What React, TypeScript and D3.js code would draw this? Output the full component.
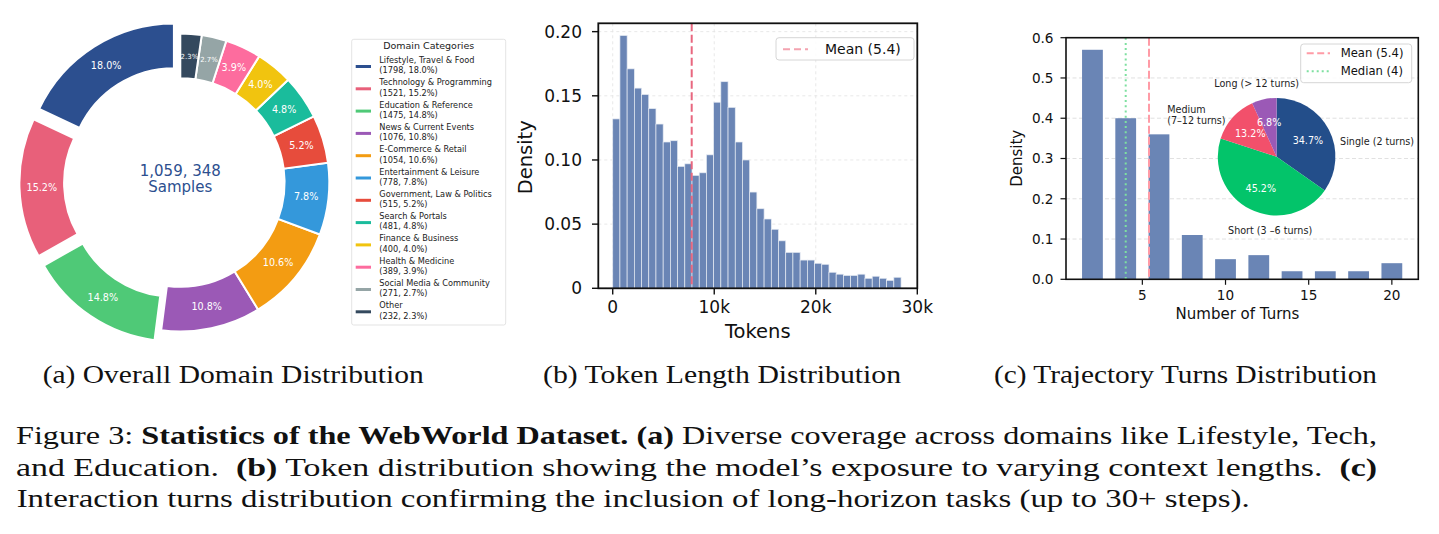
import React from 'react';
import * as d3 from 'd3';

// (a) domain categories
const domainNames = [
  'Lifestyle, Travel & Food',
  'Technology & Programming',
  'Education & Reference',
  'News & Current Events',
  'E-Commerce & Retail',
  'Entertainment & Leisure',
  'Government, Law & Politics',
  'Search & Portals',
  'Finance & Business',
  'Health & Medicine',
  'Social Media & Community',
  'Other',
];
const domainCounts = [1798, 1521, 1475, 1076, 1054, 778, 515, 481, 400, 389, 271, 232];
const domainPct = [18.0, 15.2, 14.8, 10.8, 10.6, 7.8, 5.2, 4.8, 4.0, 3.9, 2.7, 2.3];
const domainColors = [
  '#2c4f8f', '#e8607a', '#4fc977', '#9b59b6', '#f39c12', '#3498db',
  '#e74c3c', '#1abc9c', '#f1c40f', '#fd6c9e', '#95a5a6', '#34495e',
];
const explodeFrac = [0.08, 0.08, 0.08, 0, 0, 0, 0, 0, 0, 0, 0, 0];

// (b) token length histogram (density per bin)
const tokenDensity = [
  0.132, 0.197, 0.171, 0.156, 0.151, 0.140, 0.128, 0.114, 0.115, 0.095,
  0.097, 0.088, 0.090, 0.104, 0.145, 0.161, 0.141, 0.114, 0.100, 0.075,
  0.062, 0.054, 0.046, 0.037, 0.028, 0.028, 0.022, 0.022, 0.0195, 0.0187,
  0.0125, 0.011, 0.010, 0.010, 0.011, 0.0078, 0.0094, 0.0078, 0.0062, 0.0086,
];
const tokenBinWidth = 710;
const tokenMean = 7780;
const tokenXTicks = [0, 10000, 20000, 30000];
const tokenYTicks = [0, 0.05, 0.1, 0.15, 0.2];

// (c) trajectory turns
const turnCenters = [2, 4, 6, 8, 10, 12, 14, 16, 18, 20];
const turnDensity = [0.57, 0.40, 0.36, 0.11, 0.05, 0.06, 0.02, 0.02, 0.02, 0.04];
const turnMean = 5.4;
const turnMedian = 4;
const turnXTicks = [5, 10, 15, 20];
const turnYTicks = [0, 0.1, 0.2, 0.3, 0.4, 0.5, 0.6];
const pieNames = ['Single (2 turns)', 'Short (3 –6 turns)', 'Medium\n(7–12 turns)', 'Long (> 12 turns)'];
const piePct = [34.7, 45.2, 13.2, 6.8];
const pieColors = ['#234e8a', '#03c46a', '#f2506b', '#9b59b6'];
// label placement relative to pie centre, in radius units
const pieLabelPos = [
  {dx: 1.08, dy: -0.2, anchor: 'start'},
  {dx: -0.11, dy: 1.32, anchor: 'middle'},
  {dx: -1.86, dy: -0.75, anchor: 'start'},
  {dx: -1.06, dy: -1.19, anchor: 'start'},
];

const BAR = '#6a85b5';
const INK = '#111';

function Donut() {
  const cx = 180.3, cy = 182.5, R = 149, r = R * 0.7;
  const pie = d3.pie<number>().sort(null).startAngle(0).endAngle(-2 * Math.PI);
  const arcs = pie(domainPct);
  const arc = d3.arc<d3.PieArcDatum<number>>().innerRadius(r).outerRadius(R);
  return (
    <g>
      {arcs.map((a, i) => {
        const mid = (a.startAngle + a.endAngle) / 2;
        const off = explodeFrac[i] * R;
        const ox = cx + Math.sin(mid) * off;
        const oy = cy - Math.cos(mid) * off;
        const lr = R * 0.85;
        const small = domainPct[i] < 3;
        return (
          <g key={i} transform={`translate(${ox},${oy})`}>
            <path d={arc(a) as string} fill={domainColors[i]} stroke="#fff" strokeWidth={2} />
            <text x={Math.sin(mid) * lr} y={-Math.cos(mid) * lr} dy="0.35em" textAnchor="middle"
              fill="#fff" fontSize={small ? 7 : 9.6}>{domainPct[i].toFixed(1)}%</text>
          </g>
        );
      })}
      <text x={cx} y={175.5} textAnchor="middle" fill="#2c4f8f" fontSize={15}>1,059, 348</text>
      <text x={cx} y={191.5} textAnchor="middle" fill="#2c4f8f" fontSize={15}>Samples</text>
      <g>
        <rect x={351.7} y={39.3} width={154} height={285.7} rx={2} fill="#fff" stroke="#dcdcdc" strokeWidth={0.8} />
        <text x={428.7} y={49} textAnchor="middle" fontSize={9.5} fill="#222">Domain Categories</text>
        {domainNames.map((n, i) => {
          const y0 = 63 + i * 22.3;
          return (
            <g key={n}>
              <line x1={355.7} x2={371} y1={y0 + 3.5} y2={y0 + 3.5} stroke={domainColors[i]} strokeWidth={3} />
              <text x={379.3} y={y0} fontSize={8.2} fill="#222">{n}</text>
              <text x={379.3} y={y0 + 10.3} fontSize={8.2} fill="#222">({domainCounts[i]}, {domainPct[i].toFixed(1)}%)</text>
            </g>
          );
        })}
      </g>
    </g>
  );
}

function TokenHist() {
  const x = d3.scaleLinear().domain([-1420, 30000]).range([598.3, 917.3]);
  const y = d3.scaleLinear().domain([0, 0.2065]).range([288.3, 23.3]);
  const fmt = (v: number) => (v === 0 ? '0' : `${v / 1000}k`);
  return (
    <g>
      {tokenYTicks.map(t => (
        <line key={'gy' + t} x1={598.3} x2={917.3} y1={y(t)} y2={y(t)} stroke="#e2e2e2" strokeWidth={0.8} strokeDasharray="3,3" />
      ))}
      {tokenXTicks.map(t => (
        <line key={'gx' + t} x1={x(t)} x2={x(t)} y1={23.3} y2={288.3} stroke="#e2e2e2" strokeWidth={0.8} strokeDasharray="3,3" />
      ))}
      {tokenDensity.map((d, i) => (
        <rect key={i} x={x(i * tokenBinWidth)} y={y(d)} width={x((i + 1) * tokenBinWidth) - x(i * tokenBinWidth)}
          height={y(0) - y(d)} fill={BAR} stroke="#e6ebf3" strokeWidth={0.7} />
      ))}
      <line x1={x(tokenMean)} x2={x(tokenMean)} y1={23.3} y2={288.3} stroke="#e8677f" strokeWidth={2} strokeDasharray="8,3.5" />
      <rect x={598.3} y={23.3} width={319} height={265} fill="none" stroke={INK} strokeWidth={1.8} />
      {tokenYTicks.map(t => (
        <g key={'ty' + t}>
          <line x1={592} x2={598.3} y1={y(t)} y2={y(t)} stroke={INK} strokeWidth={1.4} />
          <text x={582} y={y(t)} dy="0.36em" textAnchor="end" fontSize={17} fill={INK}>{t === 0 ? '0' : t.toFixed(2)}</text>
        </g>
      ))}
      {tokenXTicks.map(t => (
        <g key={'tx' + t}>
          <line x1={x(t)} x2={x(t)} y1={288.3} y2={294.5} stroke={INK} strokeWidth={1.4} />
          <text x={x(t)} y={313} textAnchor="middle" fontSize={17} fill={INK}>{fmt(t)}</text>
        </g>
      ))}
      <text x={757.8} y={338} textAnchor="middle" fontSize={19.5} fill={INK}>Tokens</text>
      <text transform="translate(532,157.3) rotate(-90)" textAnchor="middle" fontSize={19.5} fill={INK}>Density</text>
      <rect x={776} y={37.7} width={138} height={22.3} rx={3} fill="#fff" fillOpacity={0.85} stroke="#d6d6d6" strokeWidth={1} />
      <line x1={783} x2={808} y1={49.3} y2={49.3} stroke="#f4a3b0" strokeWidth={2} strokeDasharray="7,4" />
      <text x={825} y={54.2} fontSize={14} fill={INK}>Mean (5.4)</text>
    </g>
  );
}

function TurnsChart() {
  const x = d3.scaleLinear().domain([0.41, 21.59]).range([1066, 1418.3]);
  const y = d3.scaleLinear().domain([0, 0.6]).range([279.3, 37.7]);
  const bw = x(1.25) - x(0);
  const pcx = 1276.6, pcy = 156.7, pr = 58.8;
  const pie = d3.pie<number>().sort(null).startAngle(0).endAngle(2 * Math.PI);
  const arcs = pie(piePct);
  const arc = d3.arc<d3.PieArcDatum<number>>().innerRadius(0).outerRadius(pr);
  const lab = d3.arc<d3.PieArcDatum<number>>().innerRadius(0).outerRadius(pr * 1.2);
  return (
    <g>
      {turnYTicks.slice(1, -1).map(t => (
        <line key={'g' + t} x1={1066} x2={1418.3} y1={y(t)} y2={y(t)} stroke="#dedede" strokeWidth={0.9} strokeDasharray="4,2.5" />
      ))}
      {turnCenters.map((c, i) => (
        <rect key={c} x={x(c) - bw / 2} y={y(turnDensity[i])} width={bw} height={y(0) - y(turnDensity[i])} fill={BAR} />
      ))}
      <line x1={x(turnMedian)} x2={x(turnMedian)} y1={37.7} y2={279.3} stroke="#7ee0a0" strokeWidth={2} strokeDasharray="2,3.2" />
      <line x1={x(turnMean)} x2={x(turnMean)} y1={37.7} y2={279.3} stroke="#ff9ba6" strokeWidth={2} strokeDasharray="8,3" />
      <rect x={1066} y={37.7} width={352.3} height={241.6} fill="none" stroke={INK} strokeWidth={1.6} />
      {turnYTicks.map(t => (
        <g key={'ty' + t}>
          <line x1={1060.5} x2={1066} y1={y(t)} y2={y(t)} stroke={INK} strokeWidth={1.2} />
          <text x={1053.5} y={y(t)} dy="0.36em" textAnchor="end" fontSize={13.6} fill={INK}>{t.toFixed(1)}</text>
        </g>
      ))}
      {turnXTicks.map(t => (
        <g key={'tx' + t}>
          <line x1={x(t)} x2={x(t)} y1={279.3} y2={284.8} stroke={INK} strokeWidth={1.2} />
          <text x={x(t)} y={300} textAnchor="middle" fontSize={13.6} fill={INK}>{t}</text>
        </g>
      ))}
      <text x={1237.5} y={318.5} textAnchor="middle" fontSize={15} fill={INK}>Number of Turns</text>
      <text transform="translate(1022,158.3) rotate(-90)" textAnchor="middle" fontSize={15} fill={INK}>Density</text>

      {arcs.map((a, i) => (
        <path key={i} d={arc(a) as string} transform={`translate(${pcx},${pcy})`} fill={pieColors[i]} />
      ))}
      {arcs.map((a, i) => {
        const [lx, ly] = lab.centroid(a);
        return (
          <text key={'p' + i} x={pcx + lx} y={pcy + ly} dy="0.35em" textAnchor="middle" fontSize={9.6} fill="#fff">
            {piePct[i].toFixed(1)}%
          </text>
        );
      })}
      {pieNames.map((n, i) => {
        const p = pieLabelPos[i];
        const lines = n.split('\n');
        return (
          <text key={'n' + i} x={pcx + p.dx * pr} y={pcy + p.dy * pr} textAnchor={p.anchor} fontSize={9.6} fill="#222">
            {lines.map((l, j) => (
              <tspan key={j} x={pcx + p.dx * pr} dy={j === 0 ? 0 : 11}>{l}</tspan>
            ))}
          </text>
        );
      })}

      <rect x={1300.7} y={44} width={111} height={38.7} rx={3} fill="#fff" fillOpacity={0.85} stroke="#d6d6d6" strokeWidth={1} />
      <line x1={1306.7} x2={1330} y1={53.3} y2={53.3} stroke="#ff9ba6" strokeWidth={2} strokeDasharray="7,3.5" />
      <line x1={1306.7} x2={1330} y1={71.3} y2={71.3} stroke="#7ee0a0" strokeWidth={2} strokeDasharray="2,3" />
      <text x={1340.7} y={57.4} fontSize={11.6} fill={INK}>Mean (5.4)</text>
      <text x={1340.7} y={75.4} fontSize={11.6} fill={INK}>Median (4)</text>
    </g>
  );
}

function Caption() {
  const serif = 'Liberation Serif, Times New Roman, serif';
  const pre = {whiteSpace: 'pre' as const};
  return (
    <g fontFamily={serif} fill="#111">
      <text x={42.7} y={382.5} fontSize={25} textLength={381} lengthAdjust="spacingAndGlyphs" style={pre}>(a) Overall Domain Distribution</text>
      <text x={543} y={382.5} fontSize={25} textLength={358} lengthAdjust="spacingAndGlyphs" style={pre}>(b) Token Length Distribution</text>
      <text x={994} y={382.5} fontSize={25} textLength={383} lengthAdjust="spacingAndGlyphs" style={pre}>(c) Trajectory Turns Distribution</text>
      <text x={16} y={444.3} fontSize={25} textLength={1361} lengthAdjust="spacingAndGlyphs" style={pre}>
        {'Figure 3: '}<tspan fontWeight="bold">Statistics of the WebWorld Dataset. (a)</tspan>{' Diverse coverage across domains like Lifestyle, Tech,'}
      </text>
      <text x={16} y={476} fontSize={25} textLength={1361} lengthAdjust="spacingAndGlyphs" style={pre}>
        {'and Education.  '}<tspan fontWeight="bold">(b)</tspan>{' Token distribution showing the model’s exposure to varying context lengths.  '}<tspan fontWeight="bold">(c)</tspan>
      </text>
      <text x={16.7} y={506.7} fontSize={25} textLength={1233} lengthAdjust="spacingAndGlyphs" style={pre}>
        {'Interaction turns distribution confirming the inclusion of long-horizon tasks (up to 30+ steps).'}
      </text>
    </g>
  );
}

export default function App() {
  return (
    <svg width={1439} height={534} style={{position: 'absolute', left: 0, top: 0, background: '#fff'}}
      fontFamily='"DejaVu Sans", sans-serif'>
      <rect width={1439} height={534} fill="#fff" />
      <Donut />
      <TokenHist />
      <TurnsChart />
      <Caption />
    </svg>
  );
}
